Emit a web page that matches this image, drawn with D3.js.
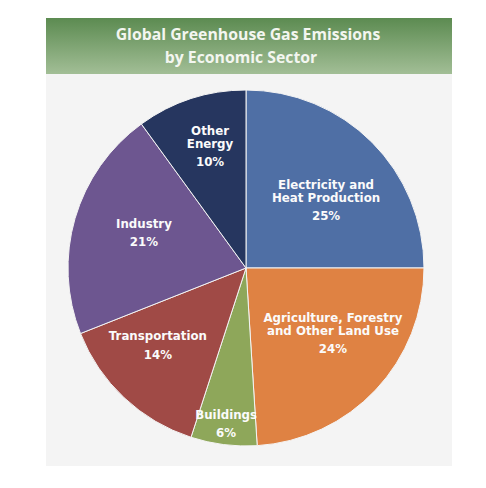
<!DOCTYPE html>
<html>
<head>
<meta charset="utf-8">
<script src="https://cdn.jsdelivr.net/npm/d3@7"></script>
<style>
  body { margin: 0; background: #fff; }
  svg { display: block; }
</style>
</head>
<body>
<div id="chart"></div>
<script>
// data
var sectors = [
  "Electricity and\nHeat Production",
  "Agriculture, Forestry\nand Other Land Use",
  "Buildings",
  "Transportation",
  "Industry",
  "Other\nEnergy"
];
var shares = [25, 24, 6, 14, 21, 10];
var colours = ["#4f6fa5", "#df8243", "#8ea75a", "#a04a46", "#6d5690", "#26365f"];
var titleLines = ["Global Greenhouse Gas Emissions", "by Economic Sector"];

var width = 486, height = 488;
var cx = 246, cy = 268, radius = 178;

var svg = d3.select('#chart').append('svg')
  .attr('width', width)
  .attr('height', height);

// header gradient
var grad = svg.append('defs').append('linearGradient')
  .attr('id', 'hdr')
  .attr('x1', 0).attr('y1', 0).attr('x2', 0).attr('y2', 1);
grad.append('stop').attr('offset', '0%').attr('stop-color', '#5c8b51');
grad.append('stop').attr('offset', '100%').attr('stop-color', '#a2be96');

// panel
svg.append('rect')
  .attr('x', 46).attr('y', 74)
  .attr('width', 406).attr('height', 392)
  .attr('fill', '#f4f4f4');

svg.append('rect')
  .attr('x', 46).attr('y', 18)
  .attr('width', 406).attr('height', 56)
  .attr('fill', 'url(#hdr)');

var titleX = [248, 241];
svg.append('text')
  .attr('text-anchor', 'middle')
  .attr('fill', '#f3f6f0')
  .style('font-family', '"Open Sans", sans-serif')
  .style('font-weight', 'bold')
  .style('font-size', '15.8px')
  .selectAll('tspan')
  .data(titleLines)
  .enter().append('tspan')
  .attr('x', function(d, i) { return titleX[i]; })
  .attr('y', function(d, i) { return 40 + i * 23; })
  .text(function(d) { return d; });

//PIE
var data = sectors.map(function(s, i) { return { name: s, value: shares[i], colour: colours[i] }; });

var pie = d3.pie()
  .sort(null)
  .value(function(d) { return d.value; });

var arc = d3.arc().innerRadius(0).outerRadius(radius);

var g = svg.append('g').attr('transform', 'translate(' + cx + ',' + cy + ')');

var slices = pie(data);

g.selectAll('path')
  .data(slices)
  .enter().append('path')
  .attr('d', arc)
  .attr('fill', function(d) { return d.data.colour; })
  .attr('stroke', '#f4f4f4')
  .attr('stroke-width', 1);

// where each label's percent line sits: fraction of radius + nudge off the mid angle (deg)
var labelR = [0.523, 0.685, 0.957, 0.71, 0.586, 0.608];
var labelTurn = [14.3, 1.3, -0.5, 1, -4.3, -1.4];
var lineH = 13, pctGap = 18.3;

var labels = g.selectAll('text.lbl')
  .data(slices)
  .enter().append('text')
  .attr('class', 'lbl')
  .attr('text-anchor', 'middle')
  .attr('fill', '#fbfbfb')
  .style('font-family', '"DejaVu Sans", sans-serif')
  .style('font-weight', 'bold')
  .style('font-size', '11.8px')
  .attr('transform', function(d, i) {
    var a = (d.startAngle + d.endAngle) / 2 + labelTurn[i] * Math.PI / 180;
    var r = radius * labelR[i];
    return 'translate(' + (Math.sin(a) * r) + ',' + (-Math.cos(a) * r) + ')';
  });

labels.each(function(d) {
  var lines = d.data.name.split('\n');
  var t = d3.select(this);
  var n = lines.length;
  lines.forEach(function(l, k) {
    t.append('tspan').attr('x', 0).attr('y', -pctGap - (n - 1 - k) * lineH).text(l);
  });
  t.append('tspan').attr('x', 0).attr('y', 0).text(d.data.value + '%');
});
</script>
</body>
</html>
